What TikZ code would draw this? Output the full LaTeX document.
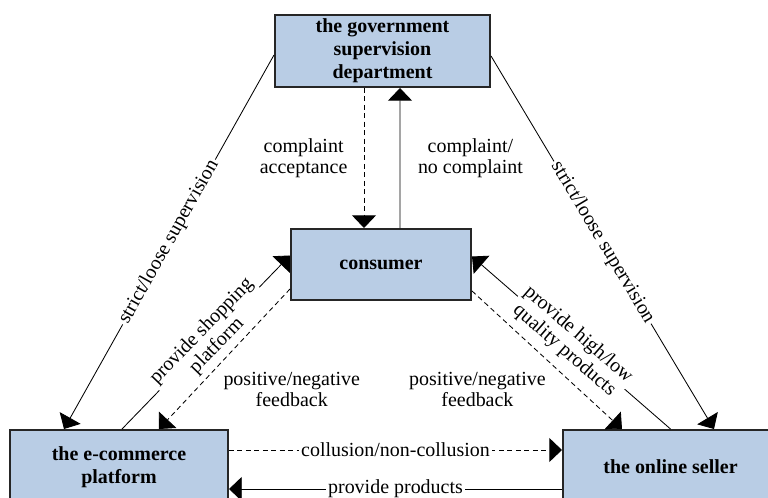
\documentclass[tikz,border=0pt]{standalone}
\usepackage{fontspec}
\setmainfont{Liberation Serif}
\usetikzlibrary{arrows.meta,calc}
\definecolor{actorblue}{RGB}{185,205,229}
\tikzstyle{actor}=[draw=black!85, line width=1.4pt, fill=actorblue, align=center, inner sep=0pt, font=\fontsize{14.2}{16.3}\selectfont\bfseries]
\newcommand{\actor}{\node[actor]}
\tikzstyle{tag}=[align=center, inner sep=1.5pt, font=\fontsize{14.2}{15}\selectfont]
\tikzstyle{cut}=[tag, fill=white]
\tikzstyle{link}=[line width=0.6pt, -{Triangle[width=17pt,length=9pt]}]
\tikzstyle{hint}=[link, dash pattern=on 3.5pt off 2.5pt]

\begin{document}
\begin{tikzpicture}[x=0.025cm, y=-0.025cm]
\useasboundingbox (0,0) rectangle (768,498);
\clip (0,0) rectangle (768,498);
\actor[minimum width=5.375cm, minimum height=1.8cm] (gov) at (382.5,51) {the government\\supervision\\department};
\actor[minimum width=4.5cm, minimum height=1.775cm] (con) at (381,264.5) {consumer};
\actor[minimum width=5.45cm, minimum height=1.85cm] (eco) at (119,467) {the e-commerce\\platform};
\actor[minimum width=5.375cm, minimum height=1.85cm] (sel) at (670.5,467) {the online seller};
\draw[hint] ($(gov.south)+(-18.5,0)$) -- node[tag, left=10pt] {complaint\\acceptance} ($(con.north)+(-17,0)$);
\draw[link] ($(con.north)+(19,0)$) -- node[tag, right=11pt] {complaint/\\no complaint} ($(gov.south)+(17.5,0)$);
\draw[link] ($(gov.west)+(0,4)$) -- node[cut, sloped] {strict/loose supervision} ($(eco.north west)+(55,0)$);
\draw[link] ($(gov.east)+(0,5)$) -- node[cut, sloped] {strict/loose supervision} ($(sel.north west)+(152,0)$);
\draw[link] ($(eco.north)+(3,0)$) -- node[cut, sloped, pos=0.52] {provide shopping\\platform} ($(con.west)+(0,-9)$);
\draw[hint] ($(con.south west)+(0,-12)$) -- node[tag, pos=0.72, right=18pt] {positive/negative\\feedback} ($(eco.north west)+(150,0)$);
\draw[link] (sel.north) -- node[cut, sloped] {provide high/low\\quality products} ($(con.east)+(0,-8)$);
\draw[hint] ($(con.south east)+(0,-10)$) -- node[tag, pos=0.714, left=22pt] {positive/negative\\feedback} ($(sel.north west)+(60,0)$);
\draw[hint] ($(eco.east)+(0,-17)$) -- node[cut] {collusion/non-collusion} ($(sel.west)+(0,-17)$);
\draw[link] ($(sel.west)+(0,22)$) -- node[cut] {provide products} ($(eco.east)+(0,22)$);
\end{tikzpicture}
\end{document}
